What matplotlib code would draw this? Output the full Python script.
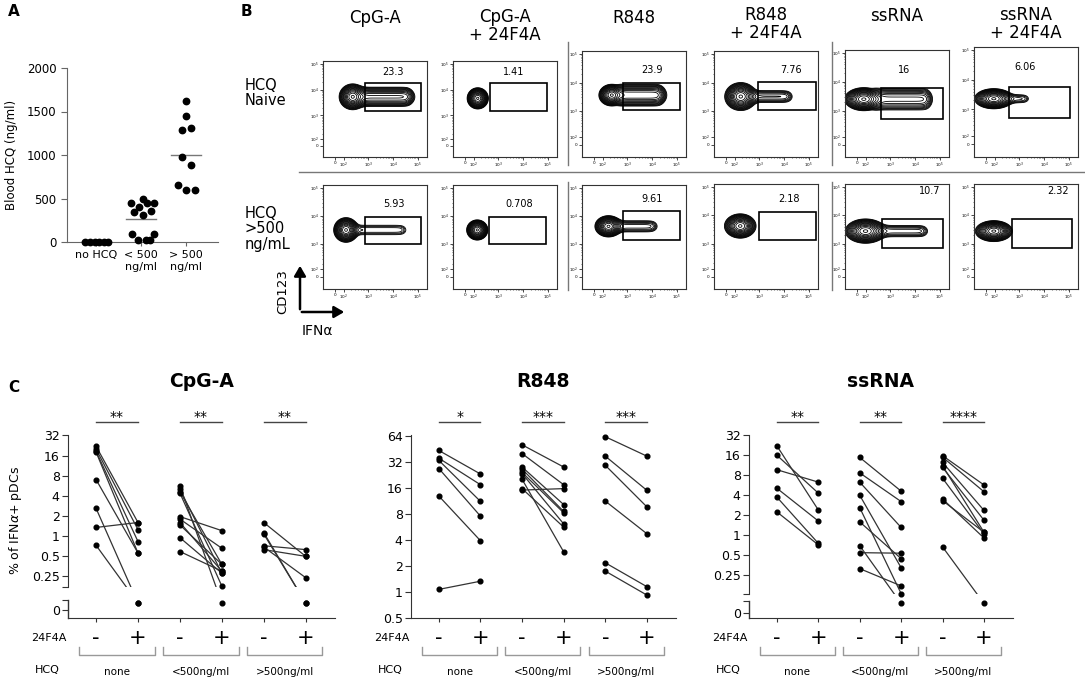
import numpy as np
import matplotlib
matplotlib.use("Agg")
import matplotlib.pyplot as plt
from matplotlib.patches import Rectangle, FancyArrowPatch
from matplotlib.transforms import blended_transform_factory

# ---------------------------------------------------------------------
# Data
# ---------------------------------------------------------------------

# panel A: blood HCQ per patient group
a_groups = ["no HCQ", "< 500\nng/ml", "> 500\nng/ml"]
a_none = [0, 0, 0, 0, 0, 0]
a_none_dx = [-0.24, -0.13, -0.02, 0.07, 0.18, 0.27]
a_low = [454, 496, 454, 454, 401, 344, 305, 359, 88, 88, 27, 19, 27]
a_low_dx = [-0.21, 0.04, 0.13, 0.3, -0.05, -0.15, 0.04, 0.22, -0.2, 0.28, -0.07, 0.11, 0.2]
a_high = [1618, 1443, 1282, 1305, 981, 889, 656, 592, 599]
a_high_dx = [0, 0, -0.08, 0.1, -0.08, 0.1, -0.17, 0, 0.19]
a_mean = [0, 267, 1004]

# panel B: flow plots (gate %, gate box, main population, tail into gate)
b_titles = ["CpG-A", "CpG-A\n+ 24F4A", "R848", "R848\n+ 24F4A", "ssRNA", "ssRNA\n+ 24F4A"]
b_rows = ["HCQ\nNaive", "HCQ\n>500\nng/mL"]
b_pct = [["23.3", "1.41", "23.9", "7.76", "16", "6.06"],
         ["5.93", "0.708", "9.61", "2.18", "10.7", "2.32"]]
b_gate = [[(2.86, 5.13, 3.17, 4.26), (2.66, 4.96, 3.17, 4.26), (2.84, 5.14, 3.03, 3.98),
           (2.95, 5.30, 3.04, 4.01), (2.63, 5.14, 2.73, 3.79), (2.57, 5.03, 2.72, 3.75)],
          [(2.86, 5.13, 2.99, 3.97), (2.62, 4.92, 2.99, 3.97), (2.81, 5.14, 3.14, 4.16),
           (2.99, 5.30, 3.13, 4.12), (2.66, 5.13, 2.84, 3.87), (2.70, 5.13, 2.84, 3.87)]]
b_label_xy = [[(4.0, 4.69), (3.61, 4.69), (4.0, 4.42), (4.28, 4.45), (3.57, 4.41), (3.23, 4.43)],
              [(4.02, 4.41), (3.84, 4.41), (4.0, 4.6), (4.2, 4.57), (4.6, 4.84), (4.57, 4.84)]]
b_blob = [[(2.37, 3.72, 0.55, 0.50), (2.17, 3.66, 0.43, 0.41), (2.37, 3.56, 0.52, 0.38),
           (2.25, 3.51, 0.65, 0.49), (1.93, 3.40, 0.78, 0.40), (1.97, 3.36, 0.78, 0.34)],
          [(2.10, 3.50, 0.50, 0.44), (2.15, 3.50, 0.43, 0.36), (2.24, 3.63, 0.55, 0.38),
           (2.23, 3.62, 0.64, 0.43), (2.00, 3.44, 0.82, 0.43), (1.97, 3.44, 0.75, 0.37)]]
b_tail = [[(4.66, 0.36, 0.25), (2.5, 0.1, 0.0), (4.36, 0.36, 0.30),
           (4.21, 0.26, 0.08), (4.53, 0.40, 0.15), (3.30, 0.20, 0.05)],
          [(4.46, 0.26, 0.045), (2.5, 0.1, 0.0), (4.10, 0.26, 0.07),
           (2.5, 0.1, 0.0), (4.40, 0.26, 0.07), (2.5, 0.1, 0.0)]]

# panel C: % IFNa+ pDCs, paired (- / + 24F4A) for none, <500, >500 ng/ml HCQ
c_groups = ["none", "<500ng/ml", ">500ng/ml"]
cpg_minus = [[22, 20, 18.5, 18, 7.0, 2.6, 1.35, 0.73],
             [5.6, 5.0, 4.6, 4.4, 1.96, 1.8, 1.6, 1.47, 0.95, 0.59],
             [1.6, 1.13, 1.08, 0.72, 0.69, 0.63]]
cpg_plus = [[1.6, 1.25, 0.83, 0.56, 0.56, 0, 1.6, 0],
            [0, 0.28, 0.38, 0.18, 1.21, 0.66, 0.3, 0.38, 0.28, 0.3],
            [0.5, 0, 0, 0.63, 0.24, 0.5]]
r848_minus = [[43, 35, 33, 26.6, 12.8, 1.07],
              [50, 39.6, 27.7, 26.2, 24, 23.3, 20, 15.6, 15],
              [62, 37, 29, 11.2, 2.17, 1.74]]
r848_plus = [[23, 17.3, 11.1, 7.5, 3.9, 1.33],
             [27.7, 17.3, 10.2, 8.5, 8.2, 6.1, 2.9, 5.6, 15.6],
             [37, 14.9, 9.6, 4.7, 1.15, 0.92]]
ssrna_minus = [[22.4, 16.1, 9.7, 5.1, 3.75, 2.24],
               [14.9, 8.7, 6.3, 4.0, 2.6, 1.58, 0.69, 0.54, 0.31],
               [15.8, 15, 12.5, 11.1, 10.5, 7.2, 3.5, 3.3, 0.66]]
ssrna_plus = [[2.4, 4.3, 6.3, 1.63, 0.75, 0.71],
              [4.6, 3.2, 1.3, 0.32, 0.13, 0.44, 0, 0.53, 0.17],
              [5.7, 4.5, 2.35, 1.1, 1.67, 1.04, 0.9, 1.1, 0]]
cpg_stars = ["**", "**", "**"]
r848_stars = ["*", "***", "***"]
ssrna_stars = ["**", "**", "****"]
ticks_broken = [32, 16, 8, 4, 2, 1, 0.5, 0.25]
ticks_r848 = [64, 32, 16, 8, 4, 2, 1, 0.5]

# ---------------------------------------------------------------------
# Figure
# ---------------------------------------------------------------------

W, H = 1085, 681
fig = plt.figure(figsize=(W / 100, H / 100), dpi=100)


def px_axes(left, top, right, bottom):
    return fig.add_axes([left / W, 1 - bottom / H, (right - left) / W, (bottom - top) / H])


def fig_text(x, y, s, **kw):
    fig.text(x / W, 1 - y / H, s, **kw)


# ----- A -----
fig_text(14, 12, "A", fontsize=11, fontweight="bold", ha="center", va="center")
ax = px_axes(67, 68, 218, 242)
for i, (vals, dx) in enumerate([(a_none, a_none_dx), (a_low, a_low_dx), (a_high, a_high_dx)]):
    ax.plot(np.array(dx) + i, vals, "o", color="black", ms=4.6, clip_on=False, zorder=3)
    ax.plot([i - 0.33, i + 0.33], [a_mean[i]] * 2, color="#777777", lw=1.0, zorder=2)
ax.set_xlim(-0.64, 2.71)
ax.set_ylim(0, 2000)
ax.set_yticks([0, 500, 1000, 1500, 2000])
ax.set_xticks(range(3))
ax.set_xticklabels(a_groups, fontsize=8)
ax.tick_params(axis="y", labelsize=8.5, length=4, color="#666666")
ax.tick_params(axis="x", length=3, color="#666666", pad=3)
for s in ["top", "right"]:
    ax.spines[s].set_visible(False)
for s in ["left", "bottom"]:
    ax.spines[s].set_color("#666666")
fig_text(11, 155, "Blood HCQ (ng/ml)", fontsize=8.5, rotation=90, ha="center", va="center")

# ----- B -----
fig_text(246, 12, "B", fontsize=11, fontweight="bold", ha="center", va="center")
col_left = [323, 453, 582, 714, 845, 974]
col_width = 104
row_top = [[61, 61, 51, 51, 50, 47], [185, 185, 185, 184, 184, 184]]
row_bottom = [157, 289]
title_y = [18, 26, 18, 24, 16, 24]

gx = np.linspace(1.17, 5.37, 260)
gy = np.linspace(1.4, 5.1, 240)
GX, GY = np.meshgrid(gx, gy)
levels = np.geomspace(0.015, 0.95, 16)

for r in range(2):
    for c in range(6):
        ax = px_axes(col_left[c], row_top[r][c], col_left[c] + col_width, row_bottom[r])
        cx, cy, rx, ry = b_blob[r][c]
        tx, tw, ts = b_tail[r][c]
        sx, sy = rx / 2.9, ry / 2.9
        dens = np.exp(-0.5 * ((GX - cx) / sx) ** 2 - 0.5 * ((GY - cy) / sy) ** 2)
        win = 1 / (1 + np.exp(-(GX - cx - rx * 0.5) / 0.06)) / (1 + np.exp((GX - tx) / 0.08))
        dens = dens + ts * np.exp(-0.5 * ((GY - cy) / (tw / 2.3)) ** 2) * win
        ax.contour(GX, GY, dens, levels=levels, colors="black", linewidths=0.6)
        x0, x1, y0, y1 = b_gate[r][c]
        ax.add_patch(Rectangle((x0, y0), x1 - x0, y1 - y0, fill=False, ec="black", lw=1.2, zorder=4))
        lx, ly = b_label_xy[r][c]
        ax.text(lx, ly, b_pct[r][c], fontsize=7, ha="center", va="center")
        ax.set_xlim(1.17, 5.37)
        ax.set_ylim(1.4, 5.1)
        ax.set_xticks([1.64, 2.0, 3.0, 4.0, 5.0])
        ax.set_xticklabels(["0", "$10^2$", "$10^3$", "$10^4$", "$10^5$"])
        ax.set_yticks([1.83, 2.1, 3.0, 4.0, 5.0])
        ax.set_yticklabels(["0", "$10^2$", "$10^3$", "$10^4$", "$10^5$"])
        minor = [k + np.log10(m) for k in (2, 3, 4) for m in range(2, 10)]
        ax.set_xticks([m for m in minor if m > 2.05], minor=True)
        ax.set_yticks([m for m in minor if m > 2.15], minor=True)
        ax.tick_params(which="major", labelsize=3, length=2, width=0.5, pad=1)
        ax.tick_params(which="minor", length=1, width=0.4)
        for s in ax.spines.values():
            s.set_linewidth(0.8)
            s.set_color("#333333")
        if r == 0:
            x_mid = col_left[c] + col_width / 2
            fig_text(x_mid, title_y[c], b_titles[c], fontsize=12, ha="center",
                     va="center", linespacing=0.95)

fig_text(245, 93, b_rows[0], fontsize=10.5, ha="left", va="center", linespacing=1.0)
fig_text(245, 229, b_rows[1], fontsize=10.5, ha="left", va="center", linespacing=1.05)

# separators
fig.add_artist(plt.Line2D([299 / W, 1], [1 - 172 / H] * 2, color="#777777", lw=1))
for xs in (568, 832):
    fig.add_artist(plt.Line2D([xs / W] * 2, [1 - 42 / H, 1 - 165 / H], color="#777777", lw=1))
    fig.add_artist(plt.Line2D([xs / W] * 2, [1 - 182 / H, 1 - 290 / H], color="#777777", lw=1))

# CD123 / IFNa axes arrows
fig.add_artist(FancyArrowPatch((300 / W, 1 - 312 / H), (300 / W, 1 - 263 / H),
               transform=fig.transFigure, arrowstyle="-|>,head_length=6,head_width=3.5",
               color="black", lw=1.8))
fig.add_artist(FancyArrowPatch((299 / W, 1 - 312 / H), (347 / W, 1 - 312 / H),
               transform=fig.transFigure, arrowstyle="-|>,head_length=6,head_width=3.5",
               color="black", lw=1.8))
fig_text(283, 292, "CD123", fontsize=9.5, rotation=90, ha="center", va="center")
fig_text(317, 331, "IFN\u03b1", fontsize=10, ha="center", va="center")

# ----- C -----
fig_text(14, 388, "C", fontsize=11, fontweight="bold", ha="center", va="center")
fig_text(15, 520, "% of IFN$\\alpha$+ pDCs", fontsize=9, rotation=90, ha="center", va="center")


def paired_panel(left, right, minus, plus, stars, title, brk, ticks):
    ax = px_axes(left, 435, right, 618)
    if brk is None:
        ymin, ymax = np.log2(ticks[-1]), np.log2(ticks[0])
    else:
        top, bot, dot, zt, ymin = brk
        ymax = np.log2(ticks[0])
        clip = Rectangle((0, top), 10, 20, transform=ax.transData)

    def pos(v):
        v = np.asarray(v, dtype=float)
        return np.where(v > 0, np.log2(np.where(v > 0, v, 1)), dot if brk else 0)

    tr = blended_transform_factory(ax.transData, ax.transAxes)
    for g in range(3):
        xm, xp = 2 * g + 1, 2 * g + 2
        for m, p in zip(minus[g], plus[g]):
            ln, = ax.plot([xm, xp], [pos(m), pos(p)], color="#333333", lw=0.9, zorder=2)
            if brk is not None and (m == 0 or p == 0):
                ln.set_clip_path(clip)
        ax.plot([xm] * len(minus[g]), pos(minus[g]), "o", color="black", ms=3.4, zorder=3, clip_on=False)
        ax.plot([xp] * len(plus[g]), pos(plus[g]), "o", color="black", ms=3.4, zorder=3, clip_on=False)
        # significance
        ax.plot([xm, xp], [1.071, 1.071], color="#444444", lw=1, transform=tr, clip_on=False)
        ax.text((xm + xp) / 2, 1.062, stars[g], transform=tr, ha="center", va="bottom", fontsize=10)
        # treatment marks and brackets
        ax.text(xm, -0.109, "-", transform=tr, ha="center", va="center", fontsize=15)
        ax.text(xp, -0.109, "+", transform=tr, ha="center", va="center", fontsize=15)
        ax.plot([xm - 0.4, xm - 0.4, xp + 0.4, xp + 0.4], [-0.158, -0.202, -0.202, -0.158],
                color="#999999", lw=1, transform=tr, clip_on=False)
        ax.text((xm + xp) / 2, -0.295, c_groups[g], transform=tr, ha="center", va="center", fontsize=7.5)
    ax.text(-0.004, -0.109, "24F4A", transform=ax.transAxes, ha="right", va="center", fontsize=8)
    ax.text(-0.03, -0.284, "HCQ", transform=ax.transAxes, ha="right", va="center", fontsize=8)
    ax.set_title(title, fontsize=13.5, fontweight="bold", y=1.215)

    tick_pos = [np.log2(t) for t in ticks]
    tick_lab = [("%g" % t) for t in ticks]
    if brk is not None:
        tick_pos += [top, bot, zt]
        tick_lab += ["", "", "0"]
        ax.spines["left"].set_bounds(top, ymax)
        trl = blended_transform_factory(ax.transAxes, ax.transData)
        ax.plot([0, 0], [ymin, bot], color="#333333", lw=1, transform=trl, clip_on=False)
    ax.set_yticks(tick_pos)
    ax.set_yticklabels(tick_lab)
    ax.set_xticks(range(1, 7))
    ax.set_xticklabels([])
    ax.set_xlim(0.33, 6.7)
    ax.set_ylim(ymin, ymax + 0.02)
    ax.tick_params(axis="y", labelsize=9, length=4, color="#333333", pad=2)
    ax.tick_params(axis="x", length=3, color="#333333")
    for s in ["top", "right"]:
        ax.spines[s].set_visible(False)
    for s in ["left", "bottom"]:
        ax.spines[s].set_color("#333333")
    return ax


paired_panel(68, 335, cpg_minus, cpg_plus, cpg_stars, "CpG-A",
             (-2.52, -3.15, -3.32, -3.66, -4.06), ticks_broken)
paired_panel(411, 676, r848_minus, r848_plus, r848_stars, "R848", None, ticks_r848)
paired_panel(749, 1013, ssrna_minus, ssrna_plus, ssrna_stars, "ssRNA",
             (-2.98, -3.30, -3.44, -3.9, -4.17), ticks_broken)

fig.savefig("out.png", dpi=100)
